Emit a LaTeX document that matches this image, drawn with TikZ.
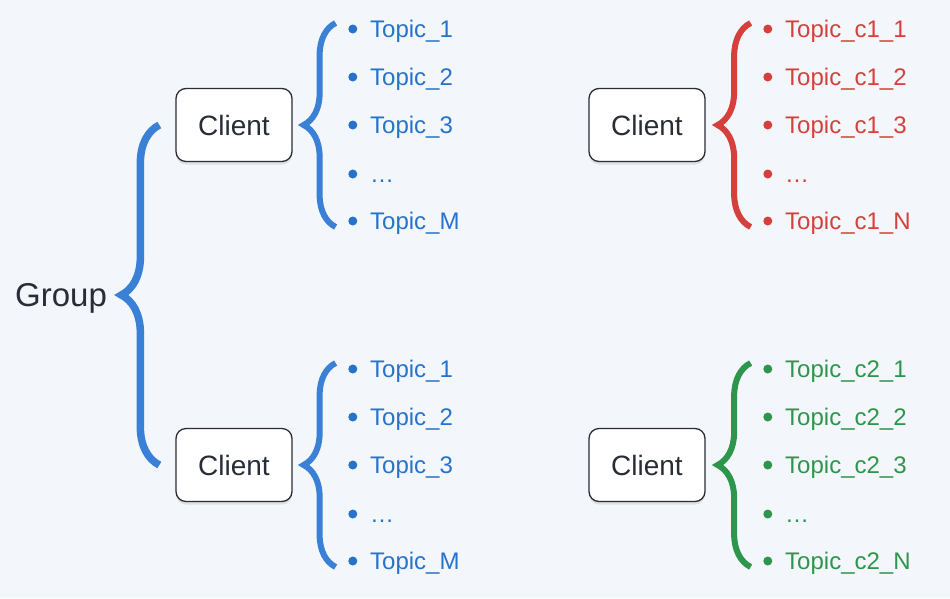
\documentclass[tikz,border=0pt]{standalone}
\usepackage{fontspec}
\setmainfont{Liberation Sans}
\usetikzlibrary{decorations.pathreplacing,shadows}
\definecolor{bg}{RGB}{243,246,250}
\definecolor{ink}{RGB}{40,45,54}
\definecolor{blu}{RGB}{38,115,204}
\definecolor{blubr}{RGB}{58,128,214}
\definecolor{rd}{RGB}{214,64,60}
\definecolor{grn}{RGB}{46,150,76}

\begin{document}
\begin{tikzpicture}[x=1pt, y=-1pt,
	client/.style = {draw=ink, line width=1.3pt, fill=white, rounded corners=10pt, minimum width=116pt, minimum height=73pt, text=ink, font=\fontsize{28}{32}\selectfont, drop shadow={opacity=0.18, shadow xshift=0pt, shadow yshift=-3pt}},
	topic/.style = {anchor=west, inner sep=0pt, text height=17pt, text depth=0pt, text=#1, font=\fontsize{24}{28}\selectfont, label={[dot=#1, label distance=12.5pt]left:{}}},
	dot/.style = {circle, fill=#1, inner sep=0pt, minimum size=9pt},
	curly/.style = {decorate, decoration={brace, amplitude=#1}}]
	
	\fill[bg] (0,0) rectangle (950,598);
	\useasboundingbox (0,0) rectangle (950,598);
	
	\node[anchor=west, inner sep=0pt, text depth=0pt, text=ink, font=\fontsize{33}{38}\selectfont] (group) at (15,295) {Group};
	
	\node[client] (cl1) at (234,125) {Client};
	\node[client] (cl2) at (234,465) {Client};
	\node[client] (cr1) at (647,125) {Client};
	\node[client] (cr2) at (647,465) {Client};
	
	% group brace
	\draw[curly=38pt, blubr, line width=7.5pt] ([xshift=-16pt]cl2.west) -- ([xshift=-16pt]cl1.west);
	
	% topics, left top
	\node[topic=blu] (a1) at (370,29) {Topic\_1};
	\node[topic=blu] (a2) at (370,77) {Topic\_2};
	\node[topic=blu] (a3) at (370,125) {Topic\_3};
	\node[topic=blu] (a4) at (370,174) {…};
	\node[topic=blu] (a5) at (370,221) {Topic\_M};
	\draw[curly=32pt, blubr, line width=6pt] ([shift={(43,102)}]cl1.east) -- ([shift={(43,-102)}]cl1.east);
	
	% topics, left bottom
	\node[topic=blu] (b1) at (370,369) {Topic\_1};
	\node[topic=blu] (b2) at (370,417) {Topic\_2};
	\node[topic=blu] (b3) at (370,465) {Topic\_3};
	\node[topic=blu] (b4) at (370,514) {…};
	\node[topic=blu] (b5) at (370,561) {Topic\_M};
	\draw[curly=32pt, blubr, line width=6pt] ([shift={(43,102)}]cl2.east) -- ([shift={(43,-102)}]cl2.east);
	
	% topics, right top
	\node[topic=rd] (c1) at (785,29) {Topic\_c1\_1};
	\node[topic=rd] (c2) at (785,77) {Topic\_c1\_2};
	\node[topic=rd] (c3) at (785,125) {Topic\_c1\_3};
	\node[topic=rd] (c4) at (785,174) {…};
	\node[topic=rd] (c5) at (785,221) {Topic\_c1\_N};
	\draw[curly=33pt, rd, line width=6pt] ([shift={(45,102)}]cr1.east) -- ([shift={(45,-102)}]cr1.east);
	
	% topics, right bottom
	\node[topic=grn] (d1) at (785,369) {Topic\_c2\_1};
	\node[topic=grn] (d2) at (785,417) {Topic\_c2\_2};
	\node[topic=grn] (d3) at (785,465) {Topic\_c2\_3};
	\node[topic=grn] (d4) at (785,514) {…};
	\node[topic=grn] (d5) at (785,561) {Topic\_c2\_N};
	\draw[curly=33pt, grn, line width=6pt] ([shift={(45,102)}]cr2.east) -- ([shift={(45,-102)}]cr2.east);
	
\end{tikzpicture}
\end{document}
